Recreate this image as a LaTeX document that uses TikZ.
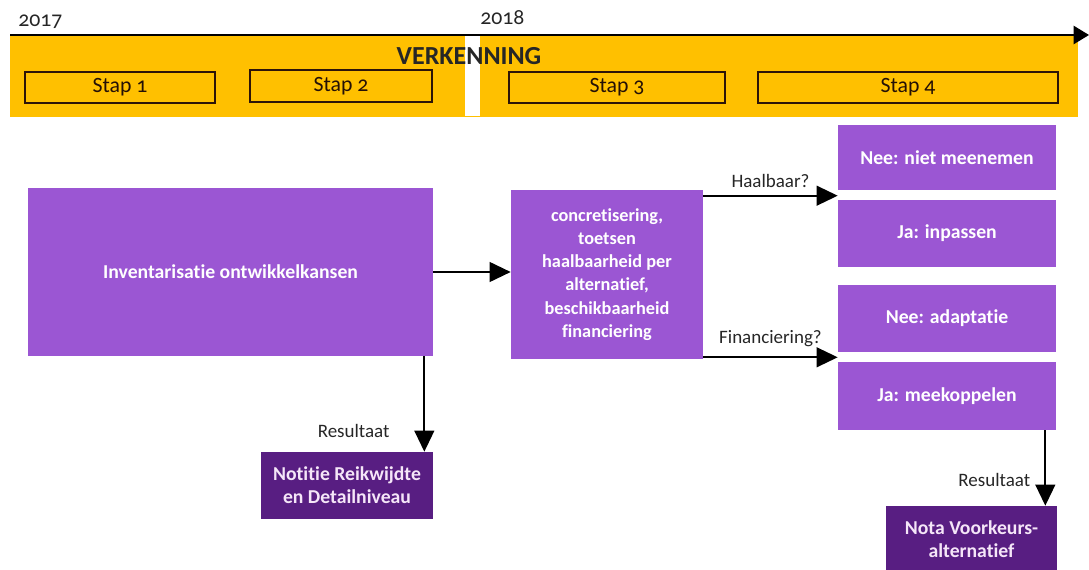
\documentclass[tikz,border=0pt]{standalone}
\usepackage{fontspec}
\setmainfont{Carlito}[Ligatures={NoCommon,NoRare,NoContextual}]
\newfontfamily\oudcijfers{Carlito}[Numbers=OldStyle,Ligatures={NoCommon,NoRare}]
\usetikzlibrary{arrows.meta}

\definecolor{oranje}{RGB}{255,192,0}
\definecolor{paars}{RGB}{155,86,211}
\definecolor{donkerpaars}{RGB}{88,30,130}
\definecolor{bruin}{RGB}{45,20,8}
\definecolor{lichtroze}{RGB}{245,230,248}

\tikzset{
  blok/.style={fill=paars, text=white, font=\bfseries\fontsize{14}{16.5}\selectfont,
    align=center, inner sep=0pt},
  resultaat/.style={fill=donkerpaars, text=lichtroze, font=\bfseries\fontsize{14}{16.5}\selectfont,
    align=center, inner sep=0pt},
  stapbox/.style={draw=bruin, line width=1.5pt, fill=oranje, inner sep=0pt,
    font=\oudcijfers\fontsize{15.5}{17}\selectfont, text=bruin!80!black},
  pijl/.style={line width=1.6pt, -{Triangle[length=15pt,width=14pt]}},
  label/.style={font=\fontsize{13.5}{15}\selectfont, text=black!85, inner sep=0pt}
}

\begin{document}
\begin{tikzpicture}[x=0.025cm, y=-0.025cm]

        \useasboundingbox (0,0) rectangle (1089,570);

        % Tijdbalk
        \fill[oranje] (10,35) rectangle (1078,117);
        \fill[white] (465,35) rectangle (480,116);
        \coordinate (start) at (10,35);
        \coordinate (eind) at (1089,35);
        \draw[line width=1.4pt, -{Triangle[length=11pt,width=13pt]}] (start) -- (eind);

        \node[anchor=base west, inner sep=0pt, font=\oudcijfers\fontsize{15.5}{17}\selectfont, text=black!85] (jaar1) at (18,27) {2017};
        \node[anchor=base west, inner sep=0pt, font=\oudcijfers\fontsize{15.5}{17}\selectfont, text=black!85] (jaar2) at (480,25) {2018};
        \node[font=\bfseries\fontsize{18.5}{20}\selectfont, text=black!85] (verk) at (469,56) {VERKENNING};

        % Stappen
        \node[stapbox, minimum width=4.75cm, minimum height=0.775cm] (stap1) at (120,87.5) {\raisebox{-2.5pt}{Stap 1}};
        \node[stapbox, minimum width=4.55cm, minimum height=0.8cm] (stap2) at (341,86) {\raisebox{-2pt}{Stap 2}};
        \node[stapbox, minimum width=5.4cm, minimum height=0.775cm] (stap3) at (617,87.5) {\raisebox{-2.5pt}{Stap 3}};
        \node[stapbox, minimum width=7.5cm, minimum height=0.775cm] (stap4) at (908,87.5) {\raisebox{-2.5pt}{Stap 4}};

        % Stappen in het proces
        \node[blok, minimum width=10.125cm, minimum height=4.2cm] (inv) at (230.5,272) {Inventarisatie ontwikkelkansen};
        \node[blok, font=\bfseries\fontsize{13}{16.5}\selectfont, minimum width=4.8cm, minimum height=4.225cm] (concr) at (607,274.5)
          {concretisering,\\ toetsen\\ haalbaarheid per\\ alternatief,\\ beschikbaarheid\\ financiering};

        \node[blok, minimum width=5.45cm, minimum height=1.625cm] (nee1) at (947,157.5) {Nee: niet meenemen};
        \node[blok, minimum width=5.45cm, minimum height=1.675cm] (ja1) at (947,233.5) {Ja: inpassen};
        \node[blok, minimum width=5.45cm, minimum height=1.675cm] (nee2) at (947,318.5) {Nee: adaptatie};
        \node[blok, minimum width=5.45cm, minimum height=1.7cm] (ja2) at (947,396) {Ja: meekoppelen};

        % Resultaten
        \node[resultaat, minimum width=4.3cm, minimum height=1.675cm] (notitie) at (347,485.5)
          {Notitie Reikwijdte\\ en Detailniveau};
        \node[resultaat, minimum width=4.275cm, minimum height=1.65cm] (nota) at (971.5,539)
          {Nota Voorkeurs-\\ alternatief};

        % Pijlen
        \draw[pijl] (inv.east) -- (inv.east -| concr.west);
        \draw[pijl] ([yshift=-0.15cm]concr.north east) -- ([yshift=-0.15cm]concr.north east -| nee1.west)
          node[label, midway, above=5pt] {Haalbaar?};
        \draw[pijl] ([yshift=0.05cm]concr.south east) -- ([yshift=0.05cm]concr.south east -| nee2.west)
          node[label, midway, above=7pt] {Financiering?};

        \draw[pijl] ([xshift=-0.225cm]inv.south east) -- ([xshift=-0.225cm]inv.south east |- notitie.north)
          node[label, pos=0.78, left=24pt] {Resultaat};
        \draw[pijl] ([xshift=-0.275cm]ja2.south east) -- ([xshift=-0.275cm]ja2.south east |- nota.north)
          node[label, pos=0.66, left=10pt] {Resultaat};

    \end{tikzpicture}
\end{document}
